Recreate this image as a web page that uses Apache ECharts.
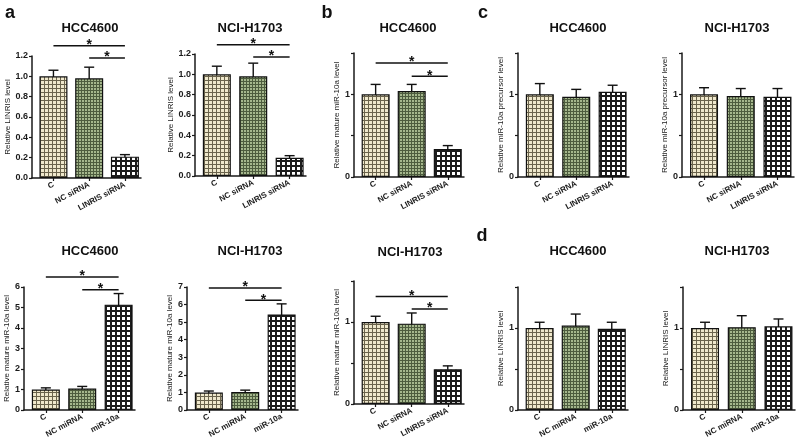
<!DOCTYPE html>
<html><head><meta charset="utf-8">
<script src="https://cdn.jsdelivr.net/npm/echarts@6/dist/echarts.min.js"></script>
<style>html,body{margin:0;padding:0;background:#fff}#c{width:800px;height:442px}</style>
</head><body><div id="c"></div><script>
// ---------- data ----------
const catsSi = ['C', 'NC siRNA', 'LINRIS siRNA'];
const catsMi = ['C', 'NC miRNA', 'miR-10a'];

// a (top): LINRIS level after siRNA
const aHccVal = [1.00, 0.98, 0.21];
const aHccErr = [0.06, 0.11, 0.02];
const aHccSig = [[0, 1.30, 2], [1, 1.18, 2]];
const aNciVal = [1.00, 0.98, 0.18];
const aNciErr = [0.08, 0.13, 0.02];
const aNciSig = [[0, 1.29, 2], [1, 1.17, 2]];
// b (top): mature miR-10a after siRNA, HCC4600
const bHccVal = [1.00, 1.04, 0.34];
const bHccErr = [0.12, 0.08, 0.04];
const bHccSig = [[0, 1.38, 2], [1, 1.22, 2]];
// c: miR-10a precursor
const cHccVal = [1.00, 0.97, 1.03];
const cHccErr = [0.13, 0.09, 0.08];
const cNciVal = [1.00, 0.98, 0.97];
const cNciErr = [0.08, 0.09, 0.10];
// a (bottom): mature miR-10a after miRNA
const aOeHccVal = [1.00, 1.05, 5.14];
const aOeHccErr = [0.08, 0.10, 0.54];
const aOeHccSig = [[0, 6.49, 2], [1, 5.87, 2]];
const aOeNciVal = [1.00, 1.03, 5.44];
const aOeNciErr = [0.08, 0.10, 0.60];
const aOeNciSig = [[0, 6.95, 2], [1, 6.25, 2]];
// b (bottom): mature miR-10a after siRNA, NCI-H1703
const bNciVal = [1.00, 0.98, 0.425];
const bNciErr = [0.07, 0.13, 0.04];
const bNciSig = [[0, 1.31, 2], [1, 1.16, 2]];
// d: LINRIS after miRNA
const dHccVal = [1.00, 1.03, 0.99];
const dHccErr = [0.07, 0.14, 0.08];
const dNciVal = [1.00, 1.01, 1.02];
const dNciErr = [0.07, 0.14, 0.09];

const letters = ['a', 'b', 'c', 'd'];

// ---------- layout ----------
const FF = '"Liberation Sans", Arial, Helvetica, sans-serif';
const nameLin = 'Relative LINRIS level';
const nameMat = 'Relative mature miR-10a level';
const namePre = 'Relative miR-10a precursor level';
const panels = [
  {t:'HCC4600',   cats:catsSi, val:aHccVal,   err:aHccErr,   sig:aHccSig,   yName:nameLin, max:1.2, step:0.2, fmt:'d1', g:[32,56,109,122],  tp:[90,22],  ng:20},
  {t:'NCI-H1703', cats:catsSi, val:aNciVal,   err:aNciErr,   sig:aNciSig,   yName:nameLin, max:1.2, step:0.2, fmt:'d1', g:[195,54,111,122], tp:[250,22], ng:18},
  {t:'HCC4600',   cats:catsSi, val:bHccVal,   err:bHccErr,   sig:bHccSig,   yName:nameMat, max:1.5, step:0.5, fmt:'01', g:[354,53,110,124], tp:[408,22], ng:12},
  {t:'HCC4600',   cats:catsSi, val:cHccVal,   err:cHccErr,   sig:[],        yName:namePre, max:1.5, step:0.5, fmt:'01', g:[518,53,111,124], tp:[578,22], ng:11},
  {t:'NCI-H1703', cats:catsSi, val:cNciVal,   err:cNciErr,   sig:[],        yName:namePre, max:1.5, step:0.5, fmt:'01', g:[682,53,112,124], tp:[737,22], ng:11},
  {t:'HCC4600',   cats:catsMi, val:aOeHccVal, err:aOeHccErr, sig:aOeHccSig, yName:nameMat, max:6,   step:1,   fmt:'d0', g:[24,287,111,123], tp:[90,245],  ng:11},
  {t:'NCI-H1703', cats:catsMi, val:aOeNciVal, err:aOeNciErr, sig:aOeNciSig, yName:nameMat, max:7,   step:1,   fmt:'d0', g:[187,287,111,123],tp:[250,245], ng:10},
  {t:'NCI-H1703', cats:catsSi, val:bNciVal,   err:bNciErr,   sig:bNciSig,   yName:nameMat, max:1.5, step:0.5, fmt:'01', g:[354,281,110,123],tp:[410,246], ng:12},
  {t:'HCC4600',   cats:catsMi, val:dHccVal,   err:dHccErr,   sig:[],        yName:nameLin, max:1.5, step:0.5, fmt:'01', g:[518,287,110,123],tp:[578,245], ng:11},
  {t:'NCI-H1703', cats:catsMi, val:dNciVal,   err:dNciErr,   sig:[],        yName:nameLin, max:1.5, step:0.5, fmt:'01', g:[683,287,112,123],tp:[737,245], ng:11}
];
const letterPos = [[10,4],[327,4],[483,4],[482,227]];

// ---------- patterns ----------
function makePattern(bg, line, step, lw) {
  const c = document.createElement('canvas');
  c.width = step; c.height = step;
  const ctx = c.getContext('2d');
  ctx.fillStyle = bg; ctx.fillRect(0, 0, step, step);
  ctx.fillStyle = line;
  ctx.fillRect(0, 0, step, lw);
  ctx.fillRect(0, 0, lw, step);
  return {image: c, repeat: 'repeat'};
}
const pats = [
  makePattern('#efe8cc', '#6a634c', 4, 1),
  makePattern('#a5b78d', '#4d5c3e', 3, 1),
  makePattern('#ffffff', '#1c1c1c', 5, 2)
];

// ---------- option ----------
const grid = [], xAxis = [], yAxis = [], series = [], title = [];
const ink = '#1a1a1a';
panels.forEach((p, i) => {
  grid.push({left: p.g[0], top: p.g[1], width: p.g[2], height: p.g[3]});
  xAxis.push({
    type: 'value', gridIndex: i, min: -0.6, max: 2.45,
    splitLine: {show: false},
    axisLine: {show: true, onZero: false, lineStyle: {color: ink, width: 1.5}},
    axisTick: {show: true, customValues: [0, 1, 2], length: 3, lineStyle: {color: ink, width: 1.2}},
    axisLabel: {customValues: [0, 1, 2], formatter: v => p.cats[Math.round(v)], rotate: 28,
      fontSize: 8, fontWeight: 'bold', color: ink, margin: 6, fontFamily: FF}
  });
  yAxis.push({
    type: 'value', gridIndex: i, min: 0, max: p.max, interval: p.step,
    splitLine: {show: false},
    axisLine: {show: true, onZero: false, lineStyle: {color: ink, width: 1.5}},
    axisTick: {show: true, length: 3, lineStyle: {color: ink, width: 1.2}},
    axisLabel: {fontSize: 9, fontWeight: 'bold', color: ink, margin: 4, fontFamily: FF,
      formatter: v => p.fmt === 'd1' ? v.toFixed(1) : p.fmt === 'd0' ? String(Math.round(v)) :
        (Math.abs(v) < 1e-9 ? '0' : Math.abs(v - 1) < 1e-9 ? '1' : '')},
    name: p.yName, nameLocation: 'middle', nameGap: p.ng,
    nameTextStyle: {fontSize: 8, color: ink, fontFamily: FF}
  });
  title.push({text: p.t, left: p.tp[0], top: p.tp[1], textAlign: 'center', padding: 0,
    textStyle: {fontSize: 13, fontWeight: 'bold', color: '#111', fontFamily: FF}});
  series.push({
    type: 'bar', xAxisIndex: i, yAxisIndex: i, barWidth: 28, silent: true,
    itemStyle: {borderColor: '#111', borderWidth: 1.2},
    data: p.val.map((v, k) => ({value: [k, v], itemStyle: {color: pats[k]}}))
  });
  series.push({
    type: 'custom', xAxisIndex: i, yAxisIndex: i, clip: false, silent: true,
    data: p.val.map((v, k) => [k, v, p.err[k]]),
    renderItem: (params, api) => {
      const x = api.value(0), v = api.value(1), e = api.value(2);
      const top = api.coord([x, v + e]), bot = api.coord([x, v - e]);
      const hw = 5;
      const ls = {stroke: '#111', lineWidth: 1.4};
      return {type: 'group', children: [
        {type: 'line', shape: {x1: top[0], y1: top[1], x2: bot[0], y2: bot[1]}, style: ls},
        {type: 'line', shape: {x1: top[0] - hw, y1: top[1], x2: top[0] + hw, y2: top[1]}, style: ls},
        {type: 'line', shape: {x1: bot[0] - hw, y1: bot[1], x2: bot[0] + hw, y2: bot[1]}, style: ls}
      ]};
    }
  });
  if (p.sig.length) {
    series.push({
      type: 'custom', xAxisIndex: i, yAxisIndex: i, clip: false, silent: true,
      data: p.sig,
      renderItem: (params, api) => {
        const a = api.coord([api.value(0), api.value(1)]);
        const b = api.coord([api.value(2), api.value(1)]);
        return {type: 'group', children: [
          {type: 'line', shape: {x1: a[0], y1: a[1], x2: b[0], y2: b[1]}, style: {stroke: '#111', lineWidth: 1.5}},
          {type: 'text', style: {text: '*', x: (a[0] + b[0]) / 2, y: a[1] - 0.5, align: 'center',
            verticalAlign: 'middle', fontSize: 14, fontWeight: 'bold', fill: '#111', fontFamily: FF}}
        ]};
      }
    });
  }
});
letters.forEach((l, k) => {
  title.push({text: l, left: letterPos[k][0], top: letterPos[k][1], textAlign: 'center', padding: 0,
    textStyle: {fontSize: 18, fontWeight: 'bold', color: '#111', fontFamily: FF}});
});

const chart = echarts.init(document.getElementById('c'), null, {renderer: 'canvas'});
chart.setOption({animation: false, backgroundColor: '#fff', title, grid, xAxis, yAxis, series});
</script></body></html>
